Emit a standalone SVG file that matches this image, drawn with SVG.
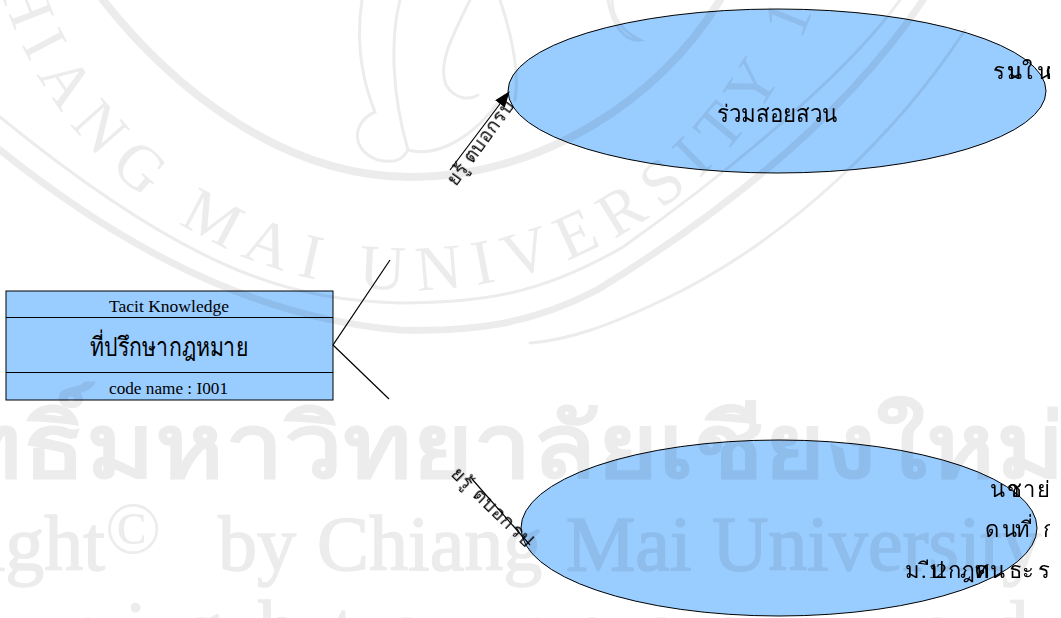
<svg xmlns="http://www.w3.org/2000/svg" width="1061" height="618" viewBox="0 0 1061 618">
<style>
.wm{fill:#ececec;font-family:"Liberation Serif","Noto Sans",serif}
.wb{font-weight:bold}
.wr{fill:none;stroke:#ececec;stroke-linecap:round}
.shape{fill:#99ccff;stroke:#000;stroke-width:1}
.conn{fill:none;stroke:#000;stroke-width:1.2}
.t{font-family:"Liberation Serif","Noto Sans","Noto Sans CJK SC",serif;fill:#000}
.f22{font-size:22px}
</style>
<defs>
<path id="arc" d="M-20,-140 A430,430 0 0 0 840,-140"/>
<marker id="ah" markerWidth="16" markerHeight="12" refX="15" refY="6" orient="auto" markerUnits="userSpaceOnUse"><path d="M0,0L16,6L0,12Z" fill="#000"/></marker>
<clipPath id="page"><rect x="0" y="0" width="1050" height="618"/></clipPath>
</defs>
<g id="node-top">
<ellipse class="shape" cx="777" cy="91" rx="269" ry="82"/>
<text class="t" font-size="24" x="717" y="122" textLength="120" lengthAdjust="spacingAndGlyphs">ร่วมสอยสวน</text>
<g clip-path="url(#page)">
<text class="t f22" x="993 1007 1022 1037" y="79">รมใน</text>
<text class="t f22" x="1007" y="79">น</text>
<text class="t f22" x="1045" y="79">คุ</text>
</g>
</g>
<g id="node-bottom">
<ellipse class="shape" cx="779" cy="528" rx="258" ry="88"/>
<g clip-path="url(#page)">
<text class="t f22" x="990 1007 1023 1037" y="497">นชาย่</text>
<text class="t f22" x="1007" y="497">ว</text>
<text class="t f22" x="985 1002 1015" y="537">ดนท</text>
<text class="t f22" x="1033" y="537">ี่</text>
<text class="t f22" x="1043" y="537">ก</text>
<text class="t f22" x="905 921 928 936" y="578">ม.12</text>
<text class="t f22" x="930 930 948 960" y="578">ปีกฎ</text>
<text class="t f22" x="975 990 1009 1022 1038" y="578">ศนธะร</text>
<text class="t f22" x="975" y="578">ท</text>
</g>
</g>
<g id="node-source">
<rect class="shape" x="6" y="291" width="327" height="109"/>
<path d="M6,317.500H333M6,372.500H333" stroke="#000" fill="none"/>
<text class="t" font-size="16" x="109" y="312" textLength="120" lengthAdjust="spacingAndGlyphs">Tacit Knowledge</text>
<text class="t" font-size="26" x="90" y="356" textLength="158" lengthAdjust="spacingAndGlyphs">ที่ปรึกษากฎหมาย</text>
<text class="t" font-size="16" x="109" y="394" textLength="119" lengthAdjust="spacingAndGlyphs">code name : I001</text>
</g>
<g id="connectors">
<path class="conn" d="M333,345L390,260"/>
<path class="conn" d="M333,345L389,399"/>
<path class="conn" d="M450,170L509,92" marker-end="url(#ah)"/>
<path class="conn" d="M472,479L530,545"/>
</g>
<g id="labels">
<text class="t" font-size="19" transform="translate(456,187) rotate(-54)" textLength="100" lengthAdjust="spacing">ยรู้ ตบอกรป</text>
<text class="t" font-size="19" transform="translate(450,475) rotate(44)" textLength="105" lengthAdjust="spacing">ยรู้ ตบอกรป</text>
</g>
<g id="watermark" style="mix-blend-mode:multiply">
<path class="wr" stroke-width="8" d="M103,0 C170,85 280,177 411,177 C540,177 660,100 720,0"/>
<path class="wr" stroke-width="3" d="M900,0 C860,57 760,150 623,247 C540,295 480,303 400,303 C300,300 200,280 0,117"/>
<path class="wr" stroke-width="7" d="M923,0 C863,90 760,190 597,290 C530,325 470,332 400,330 C280,320 150,270 0,150"/>
<path class="wr" stroke-width="3" d="M965,30 C900,130 790,240 663,300 C610,325 570,340 530,343"/>
<g id="elephant">
<path class="wr" stroke-width="3" d="M362,0C356,40 360,75 375,112C352,122 350,150 378,160C400,165 405,155 408,150C440,158 475,135 500,100"/>
<path class="wr" stroke-width="3" d="M400,0C390,40 392,95 408,150"/>
<path class="wr" stroke-width="3" d="M470,0C450,40 438,65 446,85C455,100 470,100 478,95"/>
<path class="wr" stroke-width="3" d="M500,0C510,30 520,70 515,100"/>
<path class="wr" stroke-width="3" d="M608,0C612,25 625,42 640,40C620,30 612,15 612,0"/>
</g>
<text class="wm" font-size="64"><textPath href="#arc" startOffset="75" letter-spacing="13">CHIANG MAI UNIVERSITY 19</textPath></text>
<text class="wm wb" font-size="89" x="-247" y="477" textLength="1312" lengthAdjust="spacingAndGlyphs">ลิขสิทธิ์มหาวิทยาลัยเชียงใหม่</text>
<g font-size="78" stroke="#ececec" stroke-width="1.5">
<text class="wm" x="105" y="570" text-anchor="end">Copyright</text>
<text class="wm" x="218" y="570">by</text>
<text class="wm" x="317" y="570">Chiang</text>
<text class="wm" x="566" y="570">Mai</text>
<text class="wm" x="712" y="570">University</text>
<text class="wm" x="-200" y="655" letter-spacing="36">All rights reserved</text>
</g>
<text class="wm" font-size="74" x="105" y="553">©</text>
</g>
</svg>
